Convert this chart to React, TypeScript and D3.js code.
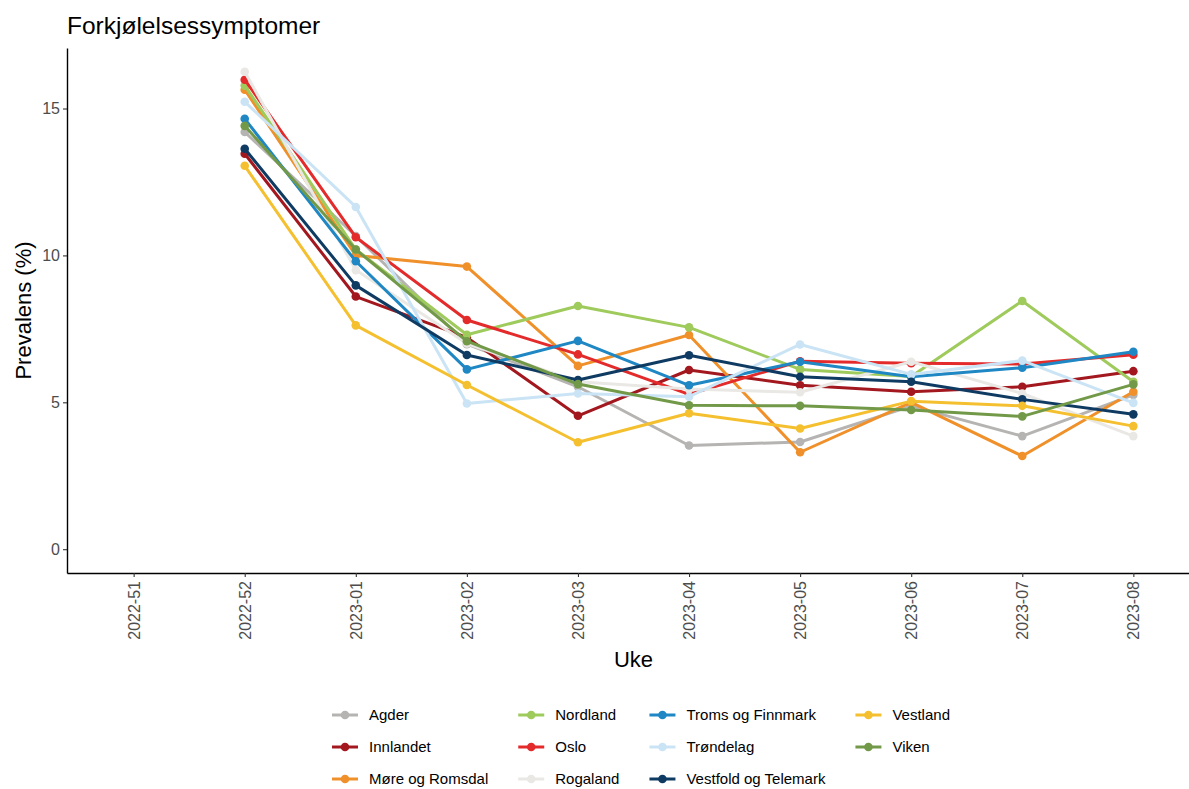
import * as d3 from 'd3';
import { useRef, useEffect } from 'react';

const weeks = ['2022-51', '2022-52', '2023-01', '2023-02', '2023-03', '2023-04', '2023-05', '2023-06', '2023-07', '2023-08'];
const regions = ['Agder', 'Innlandet', 'Møre og Romsdal', 'Nordland', 'Oslo', 'Rogaland', 'Troms og Finnmark', 'Trøndelag', 'Vestfold og Telemark', 'Vestland', 'Viken'];
const colors = ['#b5b4b2', '#a3181f', '#f0902a', '#9fca5c', '#e42b2c', '#e9e8e4', '#1f87c3', '#cae4f5', '#0f3b63', '#f5c02f', '#729948'];

// values per week, 2022-51 has no data
const agder = [NaN, 14.2, 10.66, 6.98, 5.53, 3.53, 3.65, 4.87, 3.85, 5.25];
const innlandet = [NaN, 13.46, 8.6, 7.21, 4.54, 6.1, 5.58, 5.36, 5.53, 6.06];
const more = [NaN, 15.64, 10.0, 9.62, 6.24, 7.29, 3.3, 5.0, 3.17, 5.36];
const nordland = [NaN, 15.78, 10.2, 7.3, 8.28, 7.55, 6.12, 5.88, 8.45, 5.7];
const oslo = [NaN, 15.98, 10.62, 7.8, 6.63, 5.27, 6.4, 6.33, 6.3, 6.62];
const rogaland = [NaN, 16.25, 9.5, 7.0, 5.7, 5.45, 5.34, 6.38, 5.3, 3.85];
const troms = [NaN, 14.65, 9.8, 6.12, 7.09, 5.58, 6.38, 5.87, 6.18, 6.72];
const trondelag = [NaN, 15.23, 11.65, 4.96, 5.3, 5.19, 6.97, 5.95, 6.42, 4.98];
const vestfold = [NaN, 13.63, 8.98, 6.61, 5.76, 6.6, 5.87, 5.7, 5.1, 4.59];
const vestland = [NaN, 13.05, 7.62, 5.59, 3.64, 4.63, 4.11, 5.04, 4.88, 4.19];
const viken = [NaN, 14.41, 10.2, 7.08, 5.62, 4.9, 4.88, 4.74, 4.52, 5.61];

const seriesValues = [agder, innlandet, more, nordland, oslo, rogaland, troms, trondelag, vestfold, vestland, viken];
const yTicks = [0, 5, 10, 15];

export default function App() {
    const svgRef = useRef<SVGSVGElement>(null);

    useEffect(() => {
        if (!svgRef.current) return;
        const svg = d3.select(svgRef.current);
        svg.selectAll('*').remove();

        const W = 1189, H = 789;
        const left = 67, right = 1200, top = 48, bottom = 573;
        const font = 'Liberation Sans, Arial, sans-serif';

        const x = d3.scalePoint<string>().domain(weeks).range([left, right]).padding(0.6);
        const y = d3.scaleLinear().domain([-0.81, 17.06]).range([bottom, top]);

        svg.attr('width', W).attr('height', H);

        // axes
        const yAxis = svg.append('g')
            .attr('transform', `translate(${left},0)`)
            .call(d3.axisLeft(y).tickValues(yTicks).tickSize(4).tickPadding(3).tickSizeOuter(0));
        yAxis.select('.domain').attr('stroke', '#000').attr('stroke-width', 1.4);
        yAxis.selectAll('.tick line').attr('stroke', '#333').attr('stroke-width', 1.1);
        yAxis.selectAll('.tick text').attr('fill', '#4d4d4d').attr('font-size', 16).attr('font-family', font);

        const xAxis = svg.append('g')
            .attr('transform', `translate(0,${bottom})`)
            .call(d3.axisBottom(x).tickSize(4).tickSizeOuter(0));
        xAxis.select('.domain').attr('stroke', '#000').attr('stroke-width', 1.4);
        xAxis.selectAll('.tick line').attr('stroke', '#333').attr('stroke-width', 1.1);
        xAxis.selectAll<SVGTextElement, string>('.tick text')
            .attr('fill', '#4d4d4d').attr('font-size', 16).attr('font-family', font)
            .attr('text-anchor', 'end')
            .attr('transform', 'rotate(-90)')
            .attr('x', -8).attr('y', 0).attr('dy', '0.35em');

        // lines and points
        const line = d3.line<number>()
            .defined(v => !isNaN(v))
            .x((_, i) => x(weeks[i]) as number)
            .y(v => y(v));

        seriesValues.forEach((vals, s) => {
            const g = svg.append('g');
            g.append('path')
                .attr('d', line(vals) || '')
                .attr('fill', 'none')
                .attr('stroke', colors[s])
                .attr('stroke-width', 3)
                .attr('stroke-linejoin', 'round');
            g.selectAll('circle')
                .data(vals.map((v, i) => ({ v, w: weeks[i] })).filter(d => !isNaN(d.v)))
                .enter()
                .append('circle')
                .attr('cx', d => x(d.w) as number)
                .attr('cy', d => y(d.v))
                .attr('r', 4.3)
                .attr('fill', colors[s]);
        });

        // titles
        svg.append('text').attr('x', left).attr('y', 34)
            .attr('font-size', 24.5).attr('font-family', font).attr('fill', '#000')
            .text('Forkjølelsessymptomer');
        svg.append('text').attr('transform', `translate(31,${(top + bottom) / 2}) rotate(-90)`)
            .attr('text-anchor', 'middle')
            .attr('font-size', 22).attr('font-family', font).attr('fill', '#000')
            .text('Prevalens (%)');
        svg.append('text').attr('x', (left + right) / 2).attr('y', 667)
            .attr('text-anchor', 'middle')
            .attr('font-size', 22).attr('font-family', font).attr('fill', '#000')
            .text('Uke');

        // legend: 3 rows, filled by column, column width from widest label
        const rowY = [715, 747, 779];
        const keyW = 26, textOff = 37, colGap = 30;
        const lg = svg.append('g');
        const items = regions.map((r, i) => {
            const g = lg.append('g');
            g.append('line').attr('x1', 0).attr('x2', keyW).attr('y1', 0).attr('y2', 0)
                .attr('stroke', colors[i]).attr('stroke-width', 3);
            g.append('circle').attr('cx', keyW / 2).attr('cy', 0).attr('r', 4.3).attr('fill', colors[i]);
            const t = g.append('text').attr('x', textOff).attr('y', 0).attr('dy', '0.35em')
                .attr('font-size', 15).attr('font-family', font).attr('fill', '#000')
                .text(r);
            return { g, w: (t.node() as SVGTextElement).getComputedTextLength(), col: Math.floor(i / 3), row: i % 3 };
        });
        const nCol = 4;
        const colW = d3.range(nCol).map(c => d3.max(items.filter(it => it.col === c), it => it.w) || 0);
        const total = d3.sum(colW) + nCol * textOff + (nCol - 1) * colGap;
        let cx = 641 - total / 2;
        const colX: number[] = [];
        colW.forEach(w => { colX.push(cx); cx += textOff + w + colGap; });
        items.forEach(it => it.g.attr('transform', `translate(${colX[it.col]},${rowY[it.row]})`));
    }, []);

    return <svg ref={svgRef} style={{ position: 'absolute', left: 0, top: 0 }} />;
}
